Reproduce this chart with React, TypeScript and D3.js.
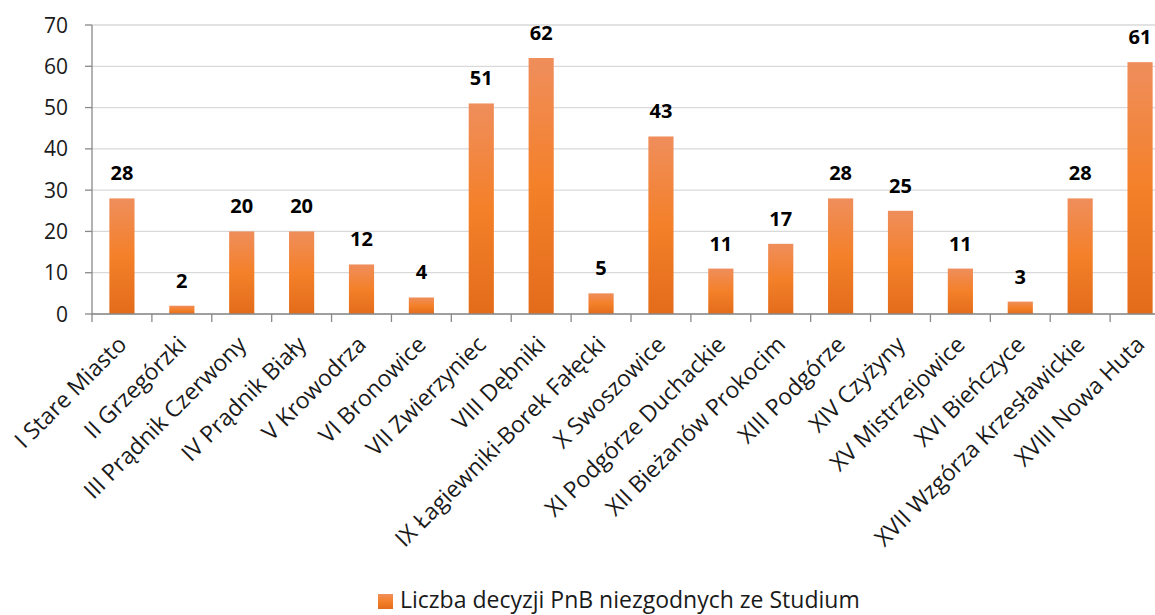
import React from "react";
import * as d3 from "d3";

const categories = [
  "I Stare Miasto",
  "II Grzegórzki",
  "III Prądnik Czerwony",
  "IV Prądnik Biały",
  "V Krowodrza",
  "VI Bronowice",
  "VII Zwierzyniec",
  "VIII Dębniki",
  "IX Łagiewniki-Borek Fałęcki",
  "X Swoszowice",
  "XI Podgórze Duchackie",
  "XII Bieżanów Prokocim",
  "XIII Podgórze",
  "XIV Czyżyny",
  "XV Mistrzejowice",
  "XVI Bieńczyce",
  "XVII Wzgórza Krzesławickie",
  "XVIII Nowa Huta",
];
const values = [28, 2, 20, 20, 12, 4, 51, 62, 5, 43, 11, 17, 28, 25, 11, 3, 28, 61];
const yTicks = [0, 10, 20, 30, 40, 50, 60, 70];
const seriesName = "Liczba decyzji PnB niezgodnych ze Studium";

const W = 1155;
const H = 615;
const left = 92;
const right = 1170;
const top = 25;
const bottom = 314;
const FONT = "'Open Sans', sans-serif";

export default function App() {
  const x = d3
    .scaleBand<string>()
    .domain(categories)
    .range([left, right])
    .paddingInner(0.58)
    .paddingOuter(0.29);
  const y = d3.scaleLinear().domain([0, 70]).range([bottom, top]);
  const step = x.step();
  const boundaries = d3.range(categories.length + 1).map((i) => left + i * step);

  return (
    <svg
      width={W}
      height={H}
      style={{ position: "absolute", left: 0, top: 0, display: "block", background: "#fff" }}
      fontFamily={FONT}
    >
      <defs>
        <linearGradient id="barGrad" x1="0" y1="0" x2="0" y2="1">
          <stop offset="0" stopColor="#EF8E5C" />
          <stop offset="0.5" stopColor="#F48029" />
          <stop offset="1" stopColor="#E36C1B" />
        </linearGradient>
        <linearGradient id="legGrad" x1="0" y1="0" x2="0" y2="1">
          <stop offset="0" stopColor="#EF8E5C" />
          <stop offset="0.5" stopColor="#F48029" />
          <stop offset="1" stopColor="#E36C1B" />
        </linearGradient>
      </defs>
      {yTicks.map((t) => (
        <line key={"g" + t} x1={left} x2={right} y1={y(t)} y2={y(t)} stroke="#D9D9D9" strokeWidth={1.3} />
      ))}
      {yTicks.map((t) => (
        <g key={"yt" + t}>
          <line x1={left - 7} x2={left} y1={y(t)} y2={y(t)} stroke="#898989" strokeWidth={1.3} />
          <text x={68} y={y(t)} dy="0.36em" textAnchor="end" fontSize={21} fill="#1a1a1a">
            {t}
          </text>
        </g>
      ))}
      {categories.map((c, i) => (
        <rect
          key={"b" + i}
          x={x(c)}
          y={y(values[i])}
          width={x.bandwidth()}
          height={bottom - y(values[i])}
          fill="url(#barGrad)"
        />
      ))}
      <line x1={left} x2={left} y1={top} y2={bottom} stroke="#898989" strokeWidth={1.3} />
      <line x1={left} x2={right} y1={bottom} y2={bottom} stroke="#898989" strokeWidth={1.3} />
      {boundaries.map((b, i) => (
        <line key={"xt" + i} x1={b} x2={b} y1={bottom} y2={bottom + 8} stroke="#898989" strokeWidth={1.3} />
      ))}
      {categories.map((c, i) => (
        <text
          key={"l" + i}
          x={(x(c) as number) + x.bandwidth() / 2}
          y={y(values[i]) - 18}
          textAnchor="middle"
          fontSize={20}
          fontWeight="bold"
          fill="#000"
        >
          {values[i]}
        </text>
      ))}
      {categories.map((c, i) => {
        const cx = (x(c) as number) + x.bandwidth() / 2 + 6;
        const cy = bottom + 32;
        return (
          <text
            key={"xl" + i}
            x={cx}
            y={cy}
            textAnchor="end"
            fontSize={23}
            fill="#1a1a1a"
            transform={`rotate(-45 ${cx} ${cy})`}
          >
            {c}
          </text>
        );
      })}
      <rect x={378} y={594} width={15} height={15} fill="url(#legGrad)" />
      <text x={400} y={608} fontSize={23} fill="#1a1a1a">
        {seriesName}
      </text>
    </svg>
  );
}
